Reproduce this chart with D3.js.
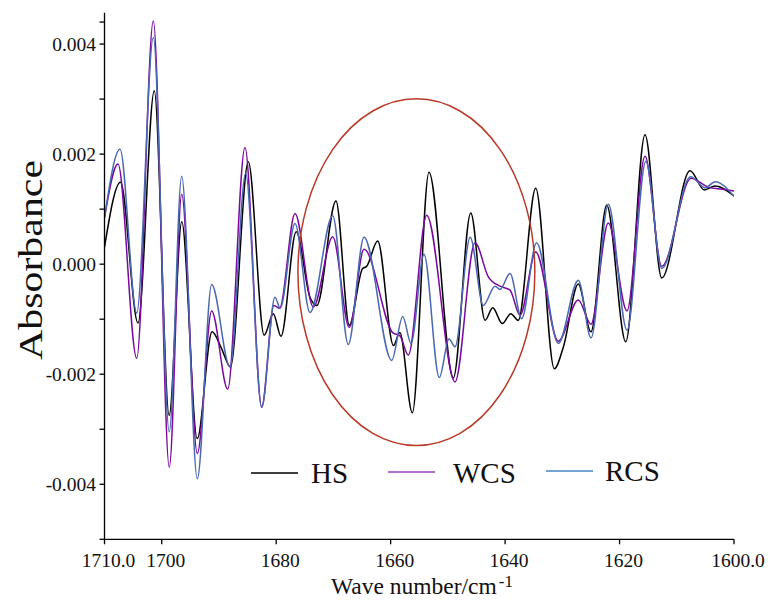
<!DOCTYPE html>
<html><head><meta charset="utf-8">
<script src="https://cdn.jsdelivr.net/npm/d3@7/dist/d3.min.js"></script>
<style>
body{margin:0;background:#fff}
text{font-family:"Liberation Serif","Times New Roman",serif;fill:#111}
</style>
</head><body>
<svg id="c" width="770" height="600"></svg>
<script>
// ---- data ----
const seriesNames = ["HS", "WCS", "RCS"];
const seriesColors = ["#000000", "#7a0a9e", "#4a68b0"];
const legendColors = ["#000000", "#9a3fbf", "#4a86c8"];

const hsWave = [1710.0,1707.2,1704.15,1701.3,1698.7,1696.5,1693.8,1691.2,1689.6,1688.0,1684.87,1682.1,1680.5,1679.16,1676.5,1674.1,1672.9,1669.55,1667.22,1664.9,1664.2,1662.26,1659.5,1658.4,1656.21,1653.3,1649.05,1646.0,1643.5,1642.16,1640.49,1639.0,1637.7,1634.65,1631.4,1629.8,1627.21,1625.0,1622.24,1618.92,1615.55,1612.63,1607.68,1605.19,1603.3,1600.0];
const hsAbs  = [0.00031,0.00149,-0.00107,0.00315,-0.00275,0.00077,-0.00317,-0.00123,-0.00152,-0.00187,0.00186,-0.00129,-0.0009,-0.00131,0.00059,-0.0006,-0.00075,0.00115,-0.00111,-0.00008,-0.00004,0.00042,-0.00148,-0.00124,-0.0027,0.00167,-0.00207,0.00093,-0.00102,-0.00079,-0.00108,-0.0009,-0.00102,0.00138,-0.0019,-0.0015,-0.00036,-0.00123,0.00107,-0.00141,0.00235,-0.00025,0.0017,0.00135,0.00142,0.00124];

const wcsWave = [1710.0,1707.64,1704.37,1701.47,1698.68,1696.51,1693.78,1691.27,1688.47,1685.45,1682.53,1680.4,1679.4,1676.71,1673.51,1670.12,1667.22,1664.65,1659.6,1658.4,1656.91,1653.7,1648.75,1645.26,1642.93,1640.89,1639.14,1637.39,1634.65,1630.7,1627.21,1625.0,1621.96,1618.7,1615.55,1612.63,1607.5,1604.5,1602.0,1600.0];
const wcsAbs  = [0.00084,0.00182,-0.00171,0.00442,-0.00369,0.00127,-0.00344,-0.00085,-0.00227,0.00212,-0.0026,-0.00075,-0.0008,0.00092,-0.00078,0.0005,-0.00115,0.00027,-0.00125,-0.0013,-0.00165,0.00089,-0.00214,0.00039,-0.00023,-0.0004,-0.00047,-0.00093,0.00022,-0.0014,-0.00065,-0.00109,0.00075,-0.00085,0.00196,-0.00004,0.00156,0.0014,0.00136,0.00133];

const rcsWave = [1710.0,1707.29,1704.37,1701.47,1698.68,1696.51,1693.78,1691.27,1688.07,1685.33,1682.53,1680.21,1679.3,1676.71,1674.09,1670.12,1667.4,1664.65,1659.81,1657.89,1656.44,1654.17,1651.5,1649.8,1648.75,1646.1,1643.81,1641.76,1640.89,1639.14,1637.1,1634.5,1630.7,1627.21,1624.99,1621.96,1618.7,1615.4,1612.63,1607.6,1605.0,1603.3,1600.0];
const rcsAbs  = [0.00084,0.00209,-0.00089,0.00412,-0.00305,0.0016,-0.0039,-0.00037,-0.00187,0.00165,-0.0026,-0.0006,-0.0008,0.00074,-0.00088,0.00088,-0.00146,0.00049,-0.00175,-0.00095,-0.00144,0.00018,-0.00206,-0.00136,-0.0015,0.00049,-0.00075,-0.0004,-0.00046,-0.00017,-0.00099,0.00039,-0.00144,-0.00029,-0.00134,0.00109,-0.0012,0.00187,-0.00008,0.00159,0.00139,0.0015,0.00123];

const xTickValues = [1710, 1700, 1680, 1660, 1640, 1620, 1600];
const xTickLabels = ["1710.0", "1700", "1680", "1660", "1640", "1620", "1600.0"];
const yTickValues = [-0.005,-0.004,-0.003,-0.002,-0.001,0,0.001,0.002,0.003,0.004,0.0044];
const yLabelValues = [-0.004,-0.002,0,0.002,0.004];

// ellipse annotation (data coordinates)
const ellipseCenter = [1655.5, -0.000145];
const ellipseRadiusWave = 20.7;
const ellipseRadiusAbs = 0.00315;

// ---- drawing ----
const svg = d3.select("#c");
const x = d3.scaleLinear().domain([1710, 1600]).range([104.5, 734]);
const y = d3.scaleLinear().domain([-0.005, 0.00457]).range([539.3, 12.7]);

const series = [
  {name: seriesNames[0], w: hsWave, a: hsAbs, color: seriesColors[0]},
  {name: seriesNames[1], w: wcsWave, a: wcsAbs, color: seriesColors[1]},
  {name: seriesNames[2], w: rcsWave, a: rcsAbs, color: seriesColors[2]}
];

const line = d3.line().x(d => x(d[0])).y(d => y(d[1])).curve(d3.curveMonotoneX);

const clip = svg.append("clipPath").attr("id","pc").append("rect")
  .attr("x",104.5).attr("y",0).attr("width",629.5).attr("height",540);

svg.append("g").attr("clip-path","url(#pc)")
  .selectAll("path").data(series).join("path")
  .attr("d", s => line(s.w.map((w,i)=>[w, s.a[i]])))
  .attr("fill","none").attr("stroke", s => s.color).attr("stroke-width",1.5);

// axes
const axG = svg.append("g").attr("stroke","#000").attr("stroke-width",1.3);
axG.append("line").attr("x1",x(1710)).attr("x2",x(1710)).attr("y1",y.range()[1]).attr("y2",y.range()[0]);
axG.append("line").attr("x1",x(1710)).attr("x2",x(1600)).attr("y1",y(-0.005)).attr("y2",y(-0.005));
axG.selectAll(".yt").data(yTickValues).join("line")
  .attr("x1",x(1710)-5).attr("x2",x(1710)).attr("y1",d=>y(d)).attr("y2",d=>y(d));
axG.selectAll(".xt").data(xTickValues).join("line")
  .attr("x1",d=>x(d)).attr("x2",d=>x(d)).attr("y1",y(-0.005)).attr("y2",y(-0.005)+5);

svg.selectAll(".yl").data(yLabelValues).join("text")
  .attr("x",96).attr("y",d=>y(d)+6.5).attr("text-anchor","end")
  .style("font-size","19.5px").text(d=>d3.format(".3f")(d).replace("−","-"));

svg.selectAll(".xl").data(xTickValues).join("text")
  .attr("x",d=>x(d)+4).attr("y",567).attr("text-anchor","middle")
  .style("font-size","19.5px").text((d,i)=>xTickLabels[i]);

// axis titles
const xt = svg.append("text").attr("x",331).attr("y",594).style("font-size","23.5px");
xt.append("tspan").text("Wave number/cm");
xt.append("tspan").attr("dy",-7).attr("dx",2).style("font-size","17px").text("-1");

svg.append("text").attr("transform","translate(42,260) rotate(-90)")
  .attr("text-anchor","middle").style("font-size","34px")
  .attr("textLength",200).attr("lengthAdjust","spacingAndGlyphs").text("Absorbance");

// legend
const legendPos = [[251, 298, 473, 311, 483], [388, 435, 472, 453, 483], [546, 593, 471, 605, 481]];
const lg = svg.selectAll(".lg").data(series).join("g");
lg.append("line").attr("x1",(d,i)=>legendPos[i][0]).attr("x2",(d,i)=>legendPos[i][1])
  .attr("y1",(d,i)=>legendPos[i][2]).attr("y2",(d,i)=>legendPos[i][2])
  .attr("stroke",(d,i)=>legendColors[i]).attr("stroke-width",1.6);
lg.append("text").attr("x",(d,i)=>legendPos[i][3]).attr("y",(d,i)=>legendPos[i][4])
  .style("font-size","29px").text(d=>d.name);

// ellipse annotation
svg.append("ellipse")
  .attr("cx", x(ellipseCenter[0])).attr("cy", y(ellipseCenter[1]))
  .attr("rx", Math.abs(x(ellipseCenter[0]+ellipseRadiusWave)-x(ellipseCenter[0])))
  .attr("ry", Math.abs(y(ellipseCenter[1]+ellipseRadiusAbs)-y(ellipseCenter[1])))
  .attr("fill","none").attr("stroke","#b83a28").attr("stroke-width",1.5);
</script>
</body></html>
